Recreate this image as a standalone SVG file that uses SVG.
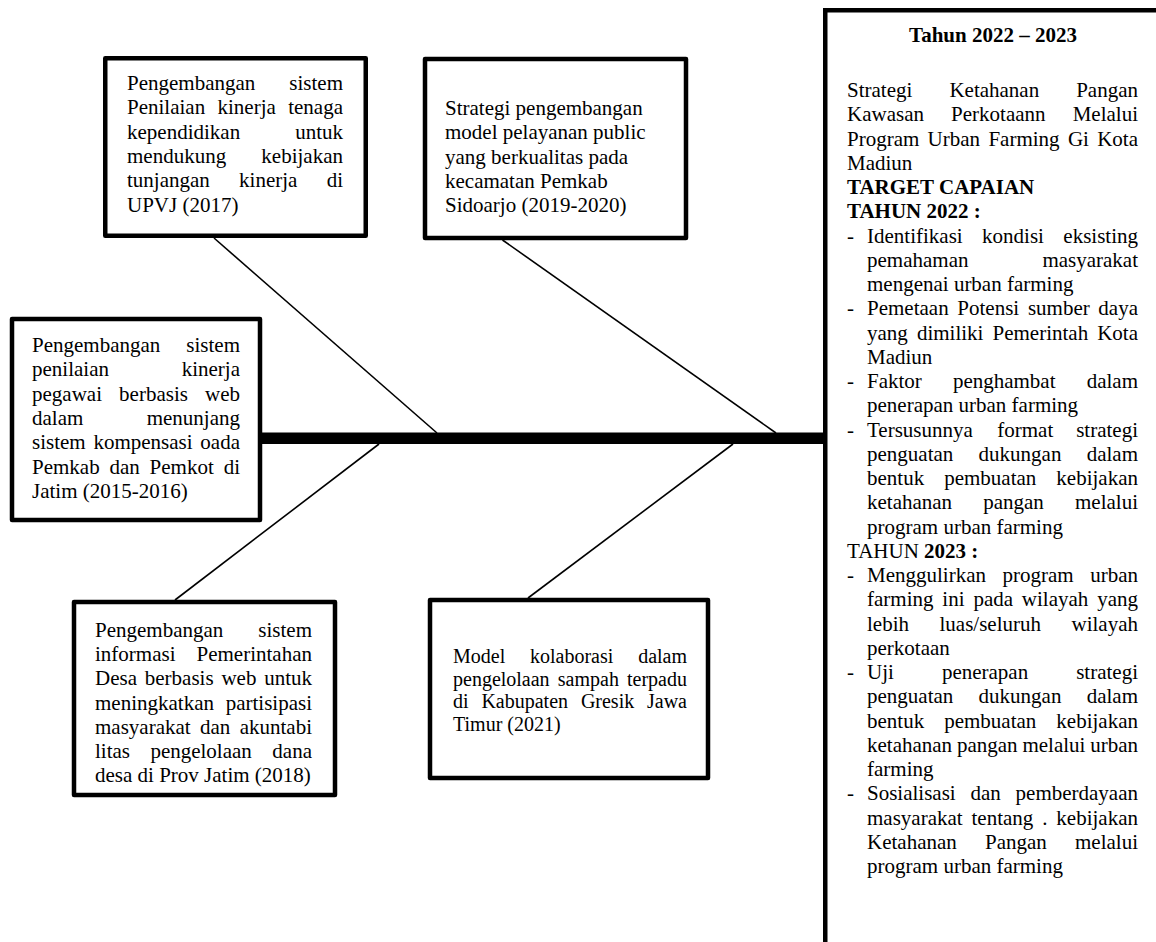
<svg xmlns="http://www.w3.org/2000/svg" width="1156" height="942" viewBox="0 0 1156 942">
<style>
.box{fill:#fff;stroke:#000;stroke-width:4.5;stroke-linejoin:round}
.c{stroke:#000;stroke-width:1.6;fill:none}
text{font-family:"Liberation Serif","Times New Roman",serif;font-size:21px;fill:#000}
.s20{font-size:20px}
.e{text-anchor:end}
.b{font-weight:bold}
</style>
<rect width="1156" height="942" fill="#fff"/>
<g id="connectors">
<line class="c" x1="214" y1="238" x2="437" y2="433"/>
<line class="c" x1="502.5" y1="240" x2="776" y2="433"/>
<line class="c" x1="379" y1="444" x2="175" y2="600"/>
<line class="c" x1="733" y1="444" x2="528" y2="598"/>
<line x1="258" y1="438.25" x2="825" y2="438.25" stroke="#000" stroke-width="11.5"/>
</g>
<g id="box1">
<rect class="box" x="105.25" y="58.25" width="260.5" height="177.5"/>
<text y="90"><tspan x="127">Pengembangan</tspan><tspan class="e" x="343">sistem</tspan></text>
<text y="114.3"><tspan x="127">Penilaian</tspan><tspan x="217.5">kinerja</tspan><tspan class="e" x="343">tenaga</tspan></text>
<text y="138.6"><tspan x="127">kependidikan</tspan><tspan class="e" x="343">untuk</tspan></text>
<text y="162.9"><tspan x="127">mendukung</tspan><tspan class="e" x="343">kebijakan</tspan></text>
<text y="187.2"><tspan x="127">tunjangan</tspan><tspan x="239.1">kinerja</tspan><tspan class="e" x="343">di</tspan></text>
<text x="127" y="211.5">UPVJ (2017)</text>
</g>
<g id="box2">
<rect class="box" x="425" y="59" width="261" height="179"/>
<text x="445" y="115">Strategi pengembangan</text>
<text x="445" y="139.3">model pelayanan public</text>
<text x="445" y="163.6">yang berkualitas pada</text>
<text x="445" y="187.9">kecamatan Pemkab</text>
<text x="445" y="212.2">Sidoarjo (2019-2020)</text>
</g>
<g id="box3">
<rect class="box" x="12" y="319" width="248" height="201"/>
<text y="352"><tspan x="32">Pengembangan</tspan><tspan class="e" x="240">sistem</tspan></text>
<text y="376.3"><tspan x="32">penilaian</tspan><tspan class="e" x="240">kinerja</tspan></text>
<text y="400.6"><tspan x="32">pegawai</tspan><tspan x="119.1">berbasis</tspan><tspan class="e" x="240">web</tspan></text>
<text y="424.9"><tspan x="32">dalam</tspan><tspan class="e" x="240">menunjang</tspan></text>
<text y="449.2"><tspan x="32">sistem</tspan><tspan x="93.4">kompensasi</tspan><tspan class="e" x="240">oada</tspan></text>
<text y="473.5"><tspan x="32">Pemkab</tspan><tspan x="109.5">dan</tspan><tspan x="149.6">Pemkot</tspan><tspan class="e" x="240">di</tspan></text>
<text x="32" y="497.8">Jatim (2015-2016)</text>
</g>
<g id="box4">
<rect class="box" x="74" y="602" width="261" height="193"/>
<text y="637"><tspan x="95">Pengembangan</tspan><tspan class="e" x="312">sistem</tspan></text>
<text y="661.2"><tspan x="95">informasi</tspan><tspan class="e" x="312">Pemerintahan</tspan></text>
<text y="685.4"><tspan x="95">Desa</tspan><tspan x="144.8">berbasis</tspan><tspan x="221.4">web</tspan><tspan class="e" x="312">untuk</tspan></text>
<text y="709.6"><tspan x="95">meningkatkan</tspan><tspan class="e" x="312">partisipasi</tspan></text>
<text y="733.8"><tspan x="95">masyarakat</tspan><tspan x="200">dan</tspan><tspan class="e" x="312">akuntabi</tspan></text>
<text y="758"><tspan x="95">litas</tspan><tspan x="150.4">pengelolaan</tspan><tspan class="e" x="312">dana</tspan></text>
<text x="95" y="782.2">desa di Prov Jatim (2018)</text>
</g>
<g id="box5">
<rect class="box" x="430" y="600" width="278" height="178"/>
<text class="s20" y="663"><tspan x="453">Model</tspan><tspan x="530">kolaborasi</tspan><tspan class="e" x="687">dalam</tspan></text>
<text class="s20" y="685.7"><tspan x="453">pengelolaan</tspan><tspan x="557.8">sampah</tspan><tspan class="e" x="687">terpadu</tspan></text>
<text class="s20" y="708.4"><tspan x="453">di</tspan><tspan x="481.4">Kabupaten</tspan><tspan x="580.9">Gresik</tspan><tspan class="e" x="687">Jawa</tspan></text>
<text class="s20" x="453" y="731.1">Timur (2021)</text>
</g>
<g id="panel">
<path d="M1160 10.25 H825.25 V946" fill="none" stroke="#000" stroke-width="4.5"/>
<text class="b" x="993" y="42" text-anchor="middle">Tahun 2022 – 2023</text>
<text y="97"><tspan x="847">Strategi</tspan><tspan x="949.4">Ketahanan</tspan><tspan class="e" x="1138">Pangan</tspan></text>
<text y="121.25"><tspan x="847">Kawasan</tspan><tspan x="951.1">Perkotaann</tspan><tspan class="e" x="1138">Melalui</tspan></text>
<text y="145.5"><tspan x="847">Program</tspan><tspan x="927.6">Urban</tspan><tspan x="988.4">Farming</tspan><tspan x="1067.9">Gi</tspan><tspan class="e" x="1138">Kota</tspan></text>
<text x="847" y="169.75">Madiun</text>
<text class="b" x="847" y="194">TARGET CAPAIAN</text>
<text class="b" x="847" y="218.25">TAHUN 2022 :</text>
<text y="242.5"><tspan x="847">-</tspan><tspan x="867">Identifikasi</tspan><tspan x="982.1">kondisi</tspan><tspan class="e" x="1138">eksisting</tspan></text>
<text y="266.75"><tspan x="867">pemahaman</tspan><tspan class="e" x="1138">masyarakat</tspan></text>
<text x="867" y="291">mengenai urban farming</text>
<text y="315.25"><tspan x="847">-</tspan><tspan x="867">Pemetaan</tspan><tspan x="957.3">Potensi</tspan><tspan x="1027.9">sumber</tspan><tspan class="e" x="1138">daya</tspan></text>
<text y="339.5"><tspan x="867">yang</tspan><tspan x="916.9">dimiliki</tspan><tspan x="992.5">Pemerintah</tspan><tspan class="e" x="1138">Kota</tspan></text>
<text x="867" y="363.75">Madiun</text>
<text y="388"><tspan x="847">-</tspan><tspan x="867">Faktor</tspan><tspan x="952.9">penghambat</tspan><tspan class="e" x="1138">dalam</tspan></text>
<text x="867" y="412.25">penerapan urban farming</text>
<text y="436.5"><tspan x="847">-</tspan><tspan x="867">Tersusunnya</tspan><tspan x="997.3">format</tspan><tspan class="e" x="1138">strategi</tspan></text>
<text y="460.75"><tspan x="867">penguatan</tspan><tspan x="978.6">dukungan</tspan><tspan class="e" x="1138">dalam</tspan></text>
<text y="485"><tspan x="867">bentuk</tspan><tspan x="944.2">pembuatan</tspan><tspan class="e" x="1138">kebijakan</tspan></text>
<text y="509.25"><tspan x="867">ketahanan</tspan><tspan x="983.2">pangan</tspan><tspan class="e" x="1138">melalui</tspan></text>
<text x="867" y="533.5">program urban farming</text>
<text x="847" y="557.75">TAHUN <tspan class="b">2023 :</tspan></text>
<text y="582"><tspan x="847">-</tspan><tspan x="867">Menggulirkan</tspan><tspan x="1002.5">program</tspan><tspan class="e" x="1138">urban</tspan></text>
<text y="606.25"><tspan x="867">farming</tspan><tspan x="942.3">ini</tspan><tspan x="973.4">pada</tspan><tspan x="1021.8">wilayah</tspan><tspan class="e" x="1138">yang</tspan></text>
<text y="630.5"><tspan x="867">lebih</tspan><tspan x="939.5">luas/seluruh</tspan><tspan class="e" x="1138">wilayah</tspan></text>
<text x="867" y="654.75">perkotaan</text>
<text y="679"><tspan x="847">-</tspan><tspan x="867">Uji</tspan><tspan x="941.9">penerapan</tspan><tspan class="e" x="1138">strategi</tspan></text>
<text y="703.25"><tspan x="867">penguatan</tspan><tspan x="978.6">dukungan</tspan><tspan class="e" x="1138">dalam</tspan></text>
<text y="727.5"><tspan x="867">bentuk</tspan><tspan x="944.2">pembuatan</tspan><tspan class="e" x="1138">kebijakan</tspan></text>
<text y="751.75"><tspan x="867">ketahanan</tspan><tspan x="956.9">pangan</tspan><tspan x="1022.4">melalui</tspan><tspan class="e" x="1138">urban</tspan></text>
<text x="867" y="776">farming</text>
<text y="800.25"><tspan x="847">-</tspan><tspan x="867">Sosialisasi</tspan><tspan x="970.4">dan</tspan><tspan class="e" x="1138">pemberdayaan</tspan></text>
<text y="824.5"><tspan x="867">masyarakat</tspan><tspan x="971.5">tentang</tspan><tspan x="1042.2">.</tspan><tspan class="e" x="1138">kebijakan</tspan></text>
<text y="848.75"><tspan x="867">Ketahanan</tspan><tspan x="985">Pangan</tspan><tspan class="e" x="1138">melalui</tspan></text>
<text x="867" y="873">program urban farming</text>
</g>
</svg>
